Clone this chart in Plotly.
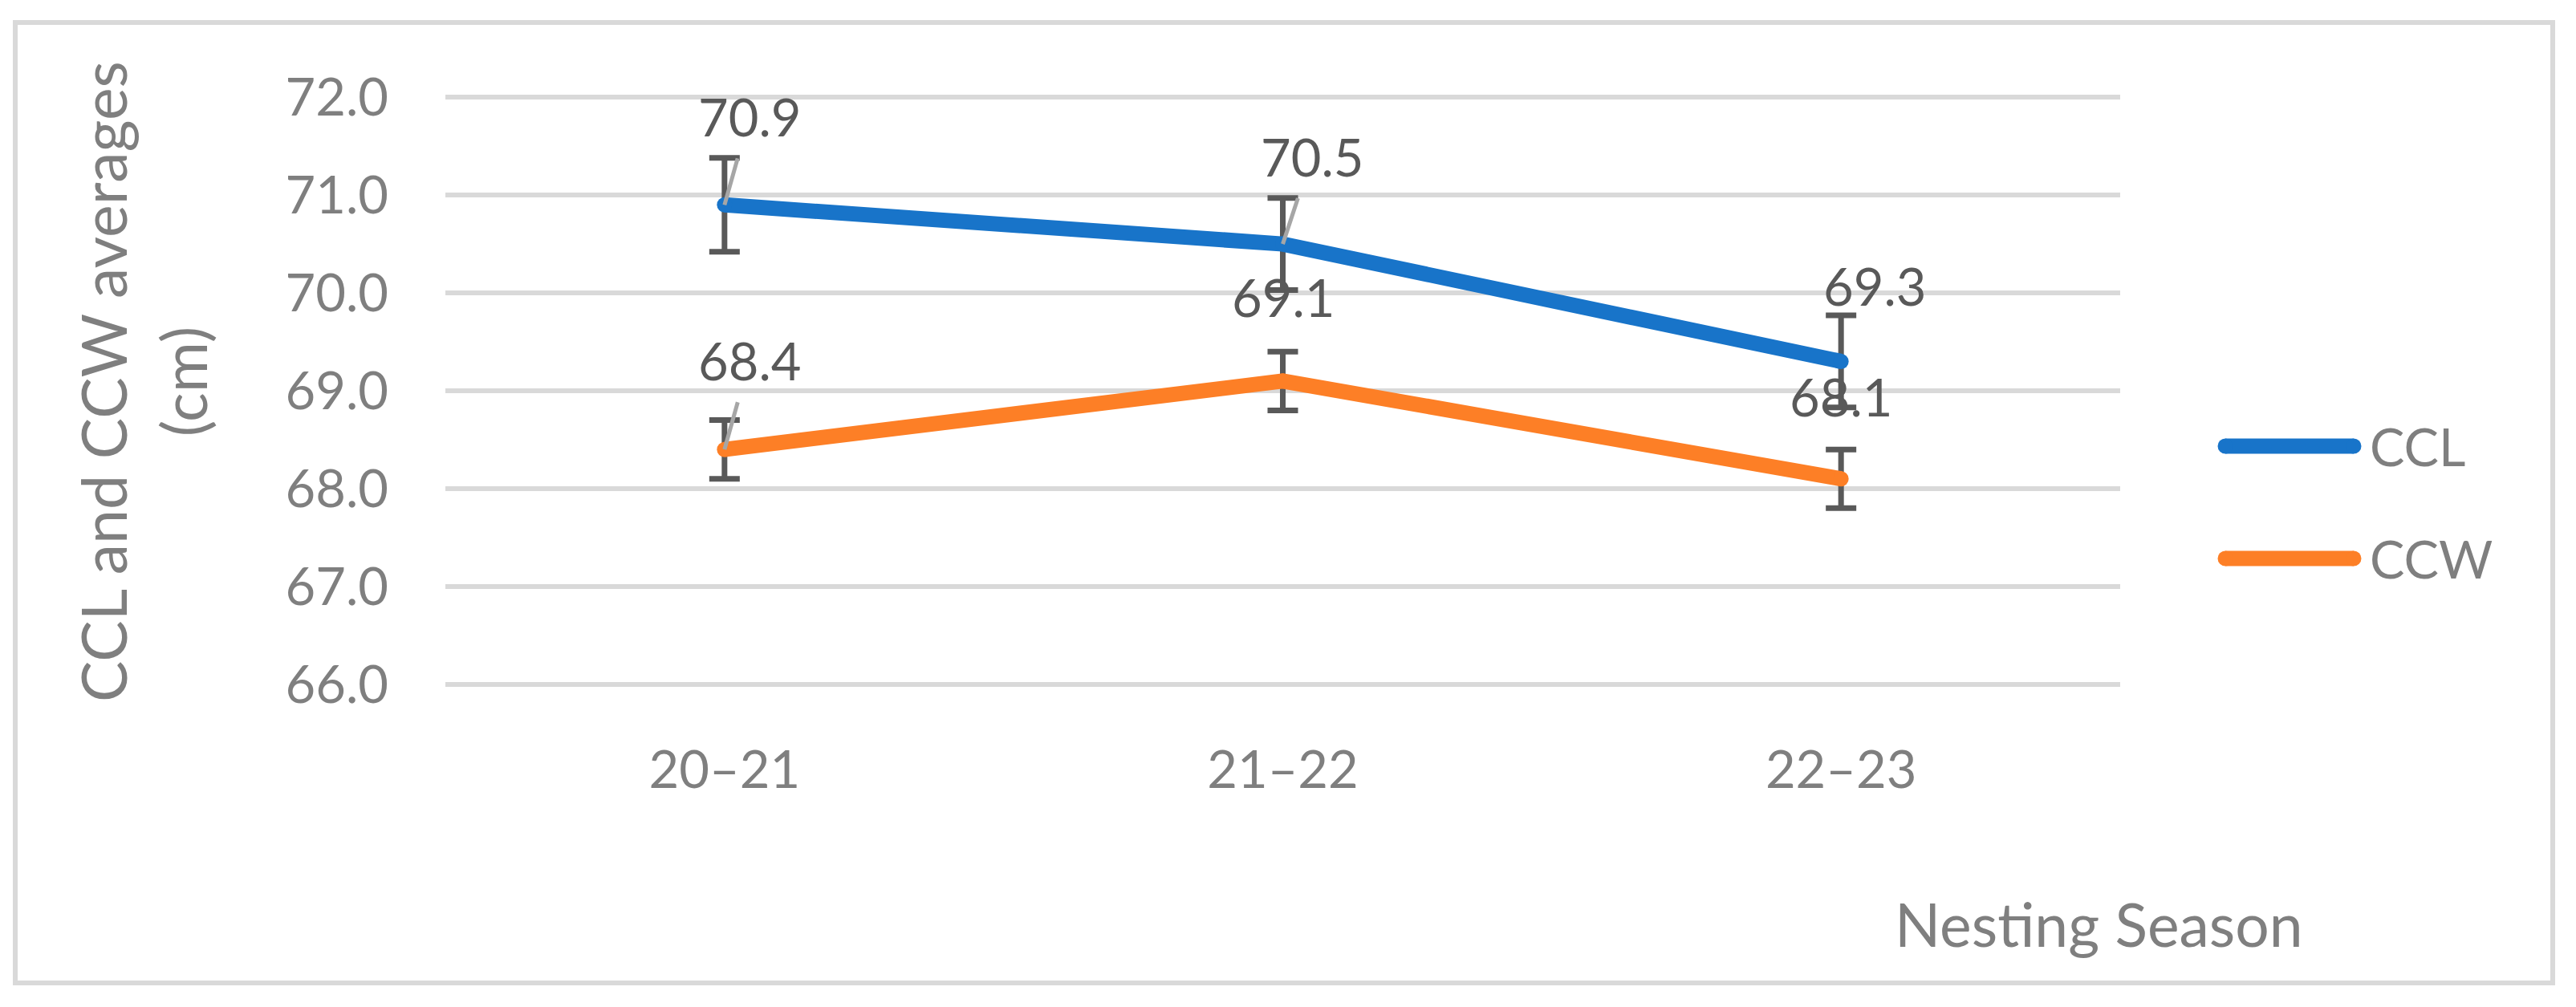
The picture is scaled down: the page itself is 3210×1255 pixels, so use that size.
import plotly.graph_objects as go

# ---------------- data ----------------
seasons = ["20–21", "21–22", "22–23"]
ccl = [70.9, 70.5, 69.3]
ccw = [68.4, 69.1, 68.1]
ccl_err = [0.48, 0.47, 0.47]
ccw_err = [0.30, 0.30, 0.30]
y_ticks = [66.0, 67.0, 68.0, 69.0, 70.0, 71.0, 72.0]
series_names = ["CCL", "CCW"]
x_title = "Nesting Season"
y_title = "CCL and CCW averages<br>(cm)"

# ---------------- layout geometry ----------------
W, H = 3210, 1255
L, R, T, B = 547, 576, 112, 409
PW = W - L - R
PH = H - T - B


def px(x):
    return (x - L) / PW


def py(y):
    return (H - B - y) / PH


BLUE = "#1874C9"
ORANGE = "#FD7F26"
GRID = "#D9D9D9"
TXT = "#7F7F7F"
LBL = "#595959"
LEAD = "#A6A6A6"
FONT = "Lato"
LW = 19

series = [
    (series_names[0], ccl, ccl_err, BLUE),
    (series_names[1], ccw, ccw_err, ORANGE),
]

# label offsets (pixels) and whether a leader line is shown (style only)
label_style = {
    "CCL": [(31, -110, True), (36, -109, True), (42, -94, False)],
    "CCW": [(31, -111, True), (0, -105, False), (0, -103, False)],
}

fig = go.Figure()

# error bars first so the lines sit on top of them
for name, vals, errs, col in series:
    fig.add_trace(go.Scatter(
        x=seasons, y=vals, mode="markers", name=name + " error",
        marker=dict(size=1, opacity=0),
        error_y=dict(type="data", array=errs, visible=True,
                     color=LBL, thickness=7, width=19),
        showlegend=False, hoverinfo="skip",
    ))

annotations = []
for name, vals, errs, col in series:
    fig.add_trace(go.Scatter(
        x=seasons, y=vals, mode="lines+markers", name=name,
        line=dict(color=col, width=LW),
        marker=dict(color=col, size=LW, line=dict(width=0)),
        showlegend=False,
    ))
    for xv, yv, (ax, ay, leader) in zip(seasons, vals, label_style[name]):
        txt = f"{yv:.1f}"
        if leader:
            annotations.append(dict(
                x=xv, y=yv, xref="x", yref="y", text=txt,
                showarrow=True, ax=ax, ay=ay, axref="pixel", ayref="pixel",
                arrowhead=0, arrowwidth=5, arrowcolor=LEAD,
                standoff=0, startstandoff=12,
                font=dict(family=FONT, size=65, color=LBL),
            ))
        else:
            annotations.append(dict(
                x=xv, y=yv, xref="x", yref="y", text=txt, showarrow=False,
                xshift=ax, yshift=-ay,
                font=dict(family=FONT, size=65, color=LBL),
            ))

# axis titles
annotations.append(dict(
    x=px(2607), y=py(1143), xref="paper", yref="paper", text=x_title,
    showarrow=False, xanchor="center", yanchor="middle",
    font=dict(family=FONT, size=75, color=TXT),
))
annotations.append(dict(
    x=px(170), y=py(468), xref="paper", yref="paper", text=y_title,
    showarrow=False, textangle=-90, xanchor="center", yanchor="middle",
    font=dict(family=FONT, size=77, color=TXT),
))

shapes = []
# manual legend with round-capped line samples
legend_y = [548, 688]
x_start, x_end = 2765, 2925
for (name, vals, errs, col), ly in zip(series, legend_y):
    shapes.append(dict(type="line", xref="paper", yref="paper",
                       x0=px(x_start), x1=px(x_end), y0=py(ly), y1=py(ly),
                       line=dict(color=col, width=LW)))
    for xc in (x_start, x_end):
        shapes.append(dict(type="circle", xref="paper", yref="paper",
                           xsizemode="pixel", ysizemode="pixel",
                           xanchor=px(xc), yanchor=py(ly),
                           x0=-LW / 2, x1=LW / 2, y0=-LW / 2, y1=LW / 2,
                           fillcolor=col, line=dict(width=0)))
    annotations.append(dict(
        x=px(2943), y=py(ly), xref="paper", yref="paper", text=name,
        showarrow=False, xanchor="left", yanchor="middle",
        font=dict(family=FONT, size=65, color=TXT),
    ))

# chart border
shapes.append(dict(type="rect", xref="paper", yref="paper",
                   x0=px(11), x1=px(3173), y0=py(1217), y1=py(20),
                   line=dict(color=GRID, width=6), layer="below"))

fig.update_layout(
    width=W, height=H,
    margin=dict(l=L, r=R, t=T, b=B, autoexpand=False),
    paper_bgcolor="white", plot_bgcolor="white",
    font=dict(family=FONT, size=65, color=TXT),
    annotations=annotations, shapes=shapes,
    showlegend=False,
    xaxis=dict(
        type="category", range=[-0.5, 2.5], showgrid=False,
        showline=False, zeroline=False, ticks="",
        tickfont=dict(family=FONT, size=65, color=TXT),
        ticklabelstandoff=62,
    ),
    yaxis=dict(
        range=[65.99, 72.01], tickvals=y_ticks, tickformat=".1f",
        showgrid=True, gridcolor=GRID, gridwidth=6,
        zeroline=False, showline=False, ticks="",
        tickfont=dict(family=FONT, size=65, color=TXT),
        ticklabelstandoff=70,
    ),
)

fig.write_html("out.html")
